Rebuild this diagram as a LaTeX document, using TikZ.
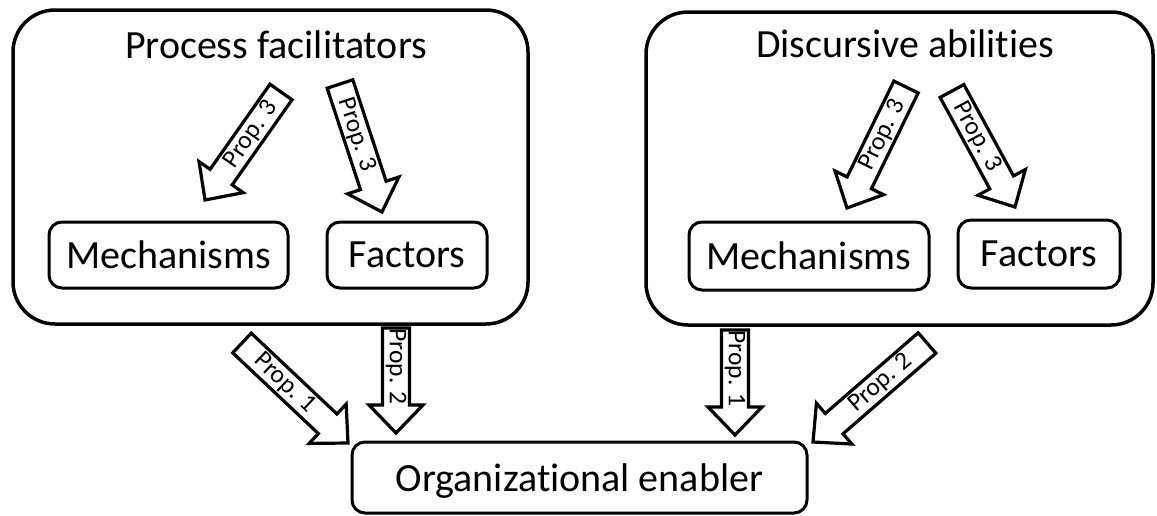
\documentclass[tikz,border=0pt]{standalone}
\usepackage{fontspec}
\setmainfont{Carlito}[Ligatures={NoCommon,NoContextual}]
\usetikzlibrary{calc}

\newcommand{\bigtext}{\fontsize{40}{48}\selectfont}
\newcommand{\proptext}{\fontsize{25.5}{30}\selectfont}

% Hollow block arrow from #1 (tail) to #2 (tip), label #3 set at angle #4
\newcommand{\propArrow}[4]{%
  \coordinate (H) at ($(#2)!28pt!(#1)$);
  \draw[proparrow]
    ($(#1)!13.5pt!90:(#2)$) -- ($(H)!13.5pt!90:(#2)$) -- ($(H)!27pt!90:(#2)$)
    -- (#2)
    -- ($(H)!27pt!-90:(#2)$) -- ($(H)!13.5pt!-90:(#2)$) -- ($(#1)!13.5pt!-90:(#2)$)
    -- cycle;
  \node[proplabel, rotate=#4] at ($(#1)!0.5!(H)$) {#3};
}

\begin{document}
\begin{tikzpicture}[x=1pt, y=-1pt,
  bigbox/.style={draw, line width=3.5pt, rounded corners=42pt, inner sep=0pt},
  smallbox/.style={draw, line width=3pt, rounded corners=13pt, inner sep=0pt, font=\bigtext},
  title/.style={font=\bigtext, inner sep=0pt},
  proparrow/.style={draw, fill=white, line width=3.2pt, line join=miter},
  proplabel/.style={font=\proptext, inner sep=0pt}]

\useasboundingbox (0,0) rectangle (1157,515);

% Process facilitators group
\node[bigbox, minimum width=515pt, minimum height=314pt] (pf) at (270.5,167) {};
\node[title] (pft) at (276,45) {Process facilitators};
\node[smallbox, minimum width=239pt, minimum height=66pt] (pfm) at (168.5,255) {Mechanisms};
\node[smallbox, minimum width=160pt, minimum height=66pt] (pff) at (407,255) {Factors};

% Discursive abilities group
\node[bigbox, minimum width=507pt, minimum height=313pt] (da) at (899.5,168.5) {};
\node[title] (dat) at (905,44) {Discursive abilities};
\node[smallbox, minimum width=240pt, minimum height=68pt] (dam) at (809,256) {Mechanisms};
\node[smallbox, minimum width=162pt, minimum height=68pt] (daf) at (1039,254) {Factors};

% Outcome
\node[smallbox, text depth=0pt, minimum width=455pt, minimum height=71pt] (oe) at (579.5,477.5) {Organizational enabler};

% Arrow ends
\coordinate (a1s) at (281,92);  \coordinate (a1e) at (205,200);
\coordinate (a2s) at (340,84);  \coordinate (a2e) at (382,212);
\coordinate (a3s) at (906,87);  \coordinate (a3e) at (847,208);
\coordinate (a4s) at (952,91);  \coordinate (a4e) at (1015,207);
\coordinate (b1s) at (242,343); \coordinate (b1e) at (348,443);
\coordinate (b2s) at (396,328); \coordinate (b2e) at (396,433);
\coordinate (b3s) at (735,330); \coordinate (b3e) at (735,435);
\coordinate (b4s) at (927,343); \coordinate (b4e) at (813,442);

% Propositions inside the groups
\propArrow{a1s}{a1e}{Prop. 3}{55}
\propArrow{a2s}{a2e}{Prop. 3}{-71.8}
\propArrow{a3s}{a3e}{Prop. 3}{64}
\propArrow{a4s}{a4e}{Prop. 3}{-61.5}

% Propositions towards the organizational enabler
\propArrow{b1s}{b1e}{Prop. 1}{-43.3}
\propArrow{b2s}{b2e}{Prop. 2}{-90}
\propArrow{b3s}{b3e}{Prop. 1}{-90}
\propArrow{b4s}{b4e}{Prop. 2}{41}

\end{tikzpicture}
\end{document}
